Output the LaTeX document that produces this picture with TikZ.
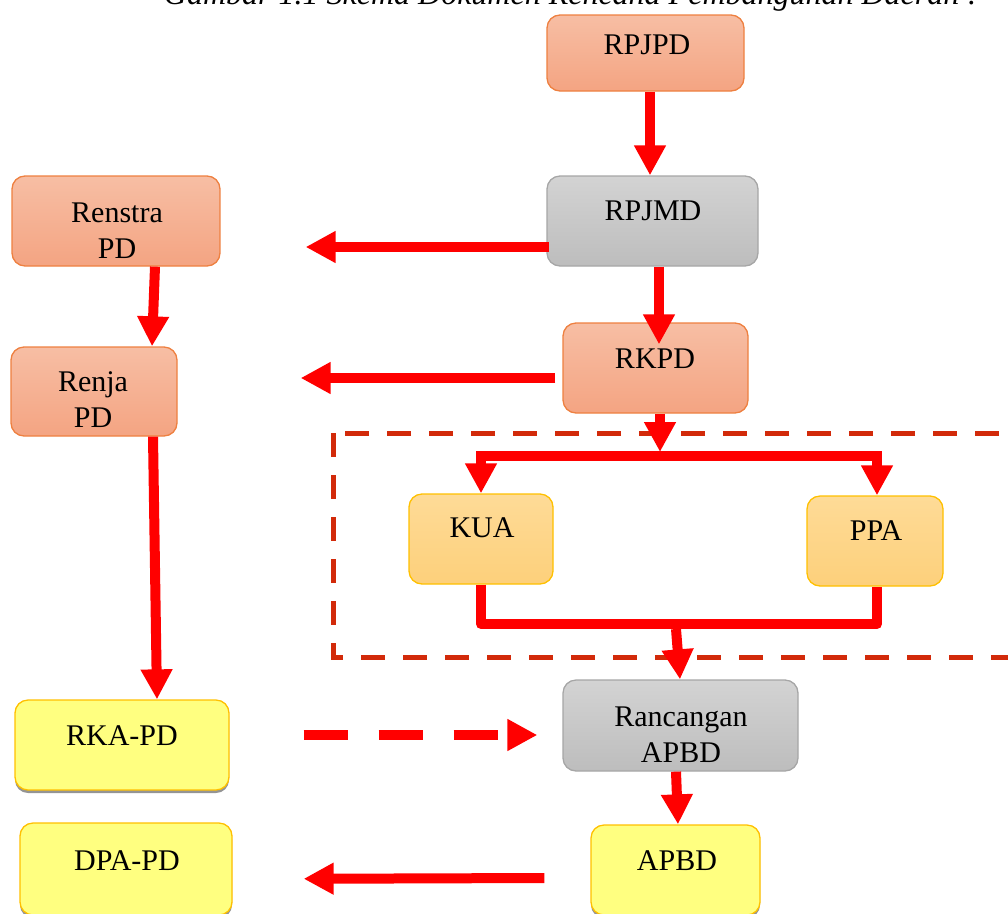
\documentclass[tikz,border=0pt]{standalone}
\usepackage{fontspec}
\setmainfont{Liberation Serif}
\usetikzlibrary{arrows.meta,shadows,calc}
\definecolor{orgT}{HTML}{F7BEA4}
\definecolor{orgB}{HTML}{F4A482}
\definecolor{orgD}{HTML}{EE8040}
\definecolor{gryT}{HTML}{D3D3D3}
\definecolor{gryB}{HTML}{BDBDBD}
\definecolor{gryD}{HTML}{A6A6A6}
\definecolor{ambT}{HTML}{FEDB97}
\definecolor{ambB}{HTML}{FDD07B}
\definecolor{ambD}{HTML}{FFC000}
\definecolor{ylw}{HTML}{FFFF80}
\definecolor{frameRed}{HTML}{D22A0A}
\definecolor{arrRed}{HTML}{FF0000}
\begin{document}
\begin{tikzpicture}[x=1pt,y=-1pt,
  box/.style={rectangle, rounded corners=13pt, line width=1.3pt, inner sep=0pt},
  obox/.style={box, draw=orgD, top color=orgT, bottom color=orgB},
  gbox/.style={box, draw=gryD, top color=gryT, bottom color=gryB},
  abox/.style={box, draw=ambD, top color=ambT, bottom color=ambB},
  ybox/.style={box, draw=ambD, fill=ylw, drop shadow={shadow xshift=0pt, shadow yshift=-3pt, fill=black!70, opacity=0.6}},
  lbl/.style={anchor=base, inner sep=0pt, font=\fontsize{30}{36}\selectfont},
  redline/.style={draw=arrRed, line width=10pt},
  arr/.style={redline, -{Triangle[length=30pt,width=30pt]}},
  frame/.style={draw=frameRed, line width=5pt, dash pattern=on 24pt off 18pt}
]
\useasboundingbox (0,0) rectangle (1008,913);
\clip (0,0) rectangle (1008,913);

% title (cut off at top)
\node[anchor=base, inner sep=0pt, font=\itshape\fontsize{32}{38}\selectfont] (title) at (571,4) {Gambar 1.1 Skema Dokumen Rencana Pembangunan Daerah :};

% dashed frame
\draw[frame] (333,433) rectangle (1030,657);

% boxes
\node[obox, minimum width=197pt, minimum height=76pt] (rpjpd) at (645.5,53) {};
\node[gbox, minimum width=211pt, minimum height=90pt] (rpjmd) at (652.5,221) {};
\node[obox, minimum width=208pt, minimum height=90pt] (renstra) at (116,221) {};
\node[obox, minimum width=185pt, minimum height=90pt] (rkpd) at (655.5,368) {};
\node[obox, minimum width=166pt, minimum height=89pt] (renja) at (94,391.5) {};
\node[abox, minimum width=144pt, minimum height=90pt] (kua) at (481,539) {};
\node[abox, minimum width=136pt, minimum height=90pt] (ppa) at (875,541) {};
\node[gbox, minimum width=235pt, minimum height=91pt] (ranc) at (680.5,725.5) {};
\node[ybox, minimum width=214pt, minimum height=90pt] (rka) at (122,745) {};
\node[ybox, minimum width=212pt, minimum height=92pt] (dpa) at (126,869) {};
\node[ybox, minimum width=169pt, minimum height=90pt] (apbd) at (675.5,870) {};

% connectors
\draw[arr] ([xshift=4.5pt]rpjpd.south) -- ([xshift=-2.5pt]rpjmd.north);
\draw[arr, shorten >=-22pt] ([xshift=6.5pt]rpjmd.south) -- ([xshift=3.5pt]rkpd.north);
\draw[arr] ([xshift=39pt]renstra.south) -- ([xshift=58pt]renja.north);
\draw[arr] ([xshift=59pt]renja.south) -- ([xshift=35pt]rka.north);
\draw[arr, shorten >=85pt] ([xshift=3pt,yshift=-26pt]rpjmd.west) -- ([yshift=-26pt]renstra.east);
\draw[arr, shorten >=123pt] ([xshift=-7pt,yshift=-10pt]rkpd.west) -- ([yshift=13.5pt]renja.east);

\coordinate (split) at (660,456);
\draw[arr, shorten >=4pt] ([xshift=4.5pt]rkpd.south) -- (split);
\draw[arr] (split) -| (kua.north);
\draw[arr] (split) -| ([xshift=2pt]ppa.north);

\coordinate (merge) at (676,624);
\draw[redline, line join=round] (kua.south) |- (merge) -| ([xshift=2pt]ppa.south);
\draw[arr] ([yshift=-5pt]merge) -- ([xshift=-0.5pt]ranc.north);
\draw[arr] ([xshift=-4.5pt]ranc.south) -- ([xshift=2.5pt]apbd.north);
\draw[arr, dash pattern=on 44pt off 31pt, shorten <=74pt, shorten >=25pt] ([yshift=10pt]rka.east) -- ([yshift=-9.5pt]ranc.west);
\draw[arr, shorten >=71pt] ([xshift=-46pt,yshift=-8pt]apbd.west) -- ([yshift=-10pt]dpa.east);

% texts
\node[lbl] (t-rpjpd) at (647,54) {RPJPD};
\node[lbl] (t-rpjmd) at (653,220) {RPJMD};
\node[lbl] (t-renstra1) at (117,222) {Renstra};
\node[lbl] (t-renstra2) at (117,258) {PD};
\node[lbl] (t-rkpd) at (655,368) {RKPD};
\node[lbl] (t-renja1) at (93,391) {Renja};
\node[lbl] (t-renja2) at (93,427) {PD};
\node[lbl] (t-kua) at (482,537) {KUA};
\node[lbl] (t-ppa) at (876,540) {PPA};
\node[lbl] (t-ranc1) at (681,726) {Rancangan};
\node[lbl] (t-ranc2) at (681,762) {APBD};
\node[lbl] (t-rka) at (122,745) {RKA-PD};
\node[lbl] (t-dpa) at (127,870) {DPA-PD};
\node[lbl] (t-apbd) at (677,870) {APBD};
\end{tikzpicture}
\end{document}
